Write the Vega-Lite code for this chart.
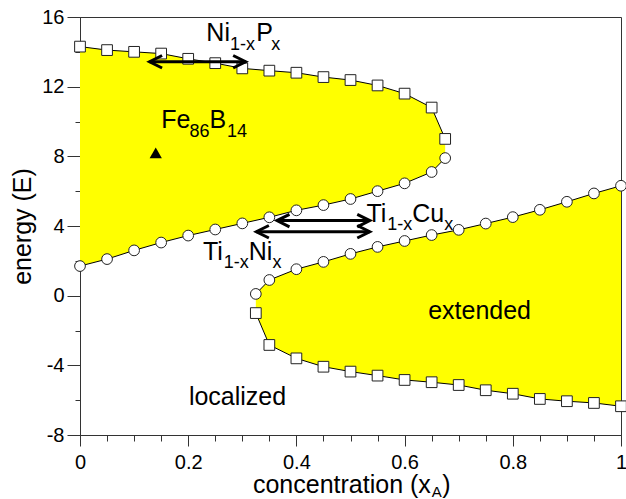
{
  "$schema": "https://vega.github.io/schema/vega-lite/v6.json",
  "width": 541,
  "height": 418,
  "autosize": {"type": "none"},
  "padding": {"left": 80, "top": 17, "right": 5, "bottom": 64},
  "config": {
    "font": "Liberation Sans",
    "view": {"stroke": "#333", "strokeWidth": 1},
    "axis": {
      "grid": false,
      "labelFlush": false,
      "labelOverlap": false,
      "domainColor": "#333",
      "tickColor": "#333",
      "labelColor": "#000",
      "labelFontSize": 20,
      "labelFont": "Liberation Sans",
      "titleFont": "Liberation Sans",
      "titleFontSize": 25,
      "titleFontWeight": "normal",
      "titleColor": "#000"
    }
  },
  "datasets": {
    "bands": [
      {"band": "upper", "x": 0, "top": 14.3, "bottom": 1.7},
      {"band": "upper", "x": 0.05, "top": 14.1, "bottom": 2.1},
      {"band": "upper", "x": 0.1, "top": 14.0, "bottom": 2.6},
      {"band": "upper", "x": 0.15, "top": 13.9, "bottom": 3.05},
      {"band": "upper", "x": 0.2, "top": 13.6, "bottom": 3.45},
      {"band": "upper", "x": 0.25, "top": 13.35, "bottom": 3.8},
      {"band": "upper", "x": 0.3, "top": 13.05, "bottom": 4.15},
      {"band": "upper", "x": 0.35, "top": 12.92, "bottom": 4.5},
      {"band": "upper", "x": 0.4, "top": 12.8, "bottom": 4.9},
      {"band": "upper", "x": 0.45, "top": 12.55, "bottom": 5.2},
      {"band": "upper", "x": 0.5, "top": 12.38, "bottom": 5.55},
      {"band": "upper", "x": 0.55, "top": 12.07, "bottom": 6.0},
      {"band": "upper", "x": 0.6, "top": 11.6, "bottom": 6.45},
      {"band": "upper", "x": 0.65, "top": 10.8, "bottom": 7.1},
      {"band": "upper", "x": 0.675, "top": 9.0, "bottom": 7.9},
      {"band": "lower", "x": 0.325, "top": 0.1, "bottom": -1.0},
      {"band": "lower", "x": 0.35, "top": 0.9, "bottom": -2.83},
      {"band": "lower", "x": 0.4, "top": 1.52, "bottom": -3.6},
      {"band": "lower", "x": 0.45, "top": 1.94, "bottom": -4.08},
      {"band": "lower", "x": 0.5, "top": 2.4, "bottom": -4.36},
      {"band": "lower", "x": 0.55, "top": 2.8, "bottom": -4.59},
      {"band": "lower", "x": 0.6, "top": 3.14, "bottom": -4.84},
      {"band": "lower", "x": 0.65, "top": 3.48, "bottom": -4.97},
      {"band": "lower", "x": 0.7, "top": 3.78, "bottom": -5.13},
      {"band": "lower", "x": 0.75, "top": 4.14, "bottom": -5.43},
      {"band": "lower", "x": 0.8, "top": 4.51, "bottom": -5.63},
      {"band": "lower", "x": 0.85, "top": 4.93, "bottom": -5.93},
      {"band": "lower", "x": 0.9, "top": 5.39, "bottom": -6.06},
      {"band": "lower", "x": 0.95, "top": 5.87, "bottom": -6.16},
      {"band": "lower", "x": 1.0, "top": 6.31, "bottom": -6.35}
    ],
    "curves": [
      {"curve": "upperTop", "marker": "square", "x": 0, "y": 14.3},
      {"curve": "upperTop", "marker": "square", "x": 0.05, "y": 14.1},
      {"curve": "upperTop", "marker": "square", "x": 0.1, "y": 14.0},
      {"curve": "upperTop", "marker": "square", "x": 0.15, "y": 13.9},
      {"curve": "upperTop", "marker": "square", "x": 0.2, "y": 13.6},
      {"curve": "upperTop", "marker": "square", "x": 0.25, "y": 13.35},
      {"curve": "upperTop", "marker": "square", "x": 0.3, "y": 13.05},
      {"curve": "upperTop", "marker": "square", "x": 0.35, "y": 12.92},
      {"curve": "upperTop", "marker": "square", "x": 0.4, "y": 12.8},
      {"curve": "upperTop", "marker": "square", "x": 0.45, "y": 12.55},
      {"curve": "upperTop", "marker": "square", "x": 0.5, "y": 12.38},
      {"curve": "upperTop", "marker": "square", "x": 0.55, "y": 12.07},
      {"curve": "upperTop", "marker": "square", "x": 0.6, "y": 11.6},
      {"curve": "upperTop", "marker": "square", "x": 0.65, "y": 10.8},
      {"curve": "upperTop", "marker": "square", "x": 0.675, "y": 9.0},
      {"curve": "upperBottom", "marker": "circle", "x": 0, "y": 1.7},
      {"curve": "upperBottom", "marker": "circle", "x": 0.05, "y": 2.1},
      {"curve": "upperBottom", "marker": "circle", "x": 0.1, "y": 2.6},
      {"curve": "upperBottom", "marker": "circle", "x": 0.15, "y": 3.05},
      {"curve": "upperBottom", "marker": "circle", "x": 0.2, "y": 3.45},
      {"curve": "upperBottom", "marker": "circle", "x": 0.25, "y": 3.8},
      {"curve": "upperBottom", "marker": "circle", "x": 0.3, "y": 4.15},
      {"curve": "upperBottom", "marker": "circle", "x": 0.35, "y": 4.5},
      {"curve": "upperBottom", "marker": "circle", "x": 0.4, "y": 4.9},
      {"curve": "upperBottom", "marker": "circle", "x": 0.45, "y": 5.2},
      {"curve": "upperBottom", "marker": "circle", "x": 0.5, "y": 5.55},
      {"curve": "upperBottom", "marker": "circle", "x": 0.55, "y": 6.0},
      {"curve": "upperBottom", "marker": "circle", "x": 0.6, "y": 6.45},
      {"curve": "upperBottom", "marker": "circle", "x": 0.65, "y": 7.1},
      {"curve": "upperBottom", "marker": "circle", "x": 0.675, "y": 7.9},
      {"curve": "lowerTop", "marker": "circle", "x": 0.325, "y": 0.1},
      {"curve": "lowerTop", "marker": "circle", "x": 0.35, "y": 0.9},
      {"curve": "lowerTop", "marker": "circle", "x": 0.4, "y": 1.52},
      {"curve": "lowerTop", "marker": "circle", "x": 0.45, "y": 1.94},
      {"curve": "lowerTop", "marker": "circle", "x": 0.5, "y": 2.4},
      {"curve": "lowerTop", "marker": "circle", "x": 0.55, "y": 2.8},
      {"curve": "lowerTop", "marker": "circle", "x": 0.6, "y": 3.14},
      {"curve": "lowerTop", "marker": "circle", "x": 0.65, "y": 3.48},
      {"curve": "lowerTop", "marker": "circle", "x": 0.7, "y": 3.78},
      {"curve": "lowerTop", "marker": "circle", "x": 0.75, "y": 4.14},
      {"curve": "lowerTop", "marker": "circle", "x": 0.8, "y": 4.51},
      {"curve": "lowerTop", "marker": "circle", "x": 0.85, "y": 4.93},
      {"curve": "lowerTop", "marker": "circle", "x": 0.9, "y": 5.39},
      {"curve": "lowerTop", "marker": "circle", "x": 0.95, "y": 5.87},
      {"curve": "lowerTop", "marker": "circle", "x": 1.0, "y": 6.31},
      {"curve": "lowerBottom", "marker": "square", "x": 0.325, "y": -1.0},
      {"curve": "lowerBottom", "marker": "square", "x": 0.35, "y": -2.83},
      {"curve": "lowerBottom", "marker": "square", "x": 0.4, "y": -3.6},
      {"curve": "lowerBottom", "marker": "square", "x": 0.45, "y": -4.08},
      {"curve": "lowerBottom", "marker": "square", "x": 0.5, "y": -4.36},
      {"curve": "lowerBottom", "marker": "square", "x": 0.55, "y": -4.59},
      {"curve": "lowerBottom", "marker": "square", "x": 0.6, "y": -4.84},
      {"curve": "lowerBottom", "marker": "square", "x": 0.65, "y": -4.97},
      {"curve": "lowerBottom", "marker": "square", "x": 0.7, "y": -5.13},
      {"curve": "lowerBottom", "marker": "square", "x": 0.75, "y": -5.43},
      {"curve": "lowerBottom", "marker": "square", "x": 0.8, "y": -5.63},
      {"curve": "lowerBottom", "marker": "square", "x": 0.85, "y": -5.93},
      {"curve": "lowerBottom", "marker": "square", "x": 0.9, "y": -6.06},
      {"curve": "lowerBottom", "marker": "square", "x": 0.95, "y": -6.16},
      {"curve": "lowerBottom", "marker": "square", "x": 1.0, "y": -6.35}
    ],
    "sample": [
      {"name": "Fe86B14", "x": 0.14, "y": 8.2}
    ],
    "arrows": [
      {"id": "NiP", "x1": 0.1286, "x2": 0.3062, "y": 13.43},
      {"id": "TiCu", "x1": 0.3641, "x2": 0.5356, "y": 4.31},
      {"id": "TiNi", "x1": 0.326, "x2": 0.5356, "y": 3.67}
    ],
    "heads": [
      {"id": "NiP", "dir": "L", "x": 0.1286, "y": 13.43},
      {"id": "NiP", "dir": "R", "x": 0.3062, "y": 13.43},
      {"id": "TiCu", "dir": "L", "x": 0.3641, "y": 4.31},
      {"id": "TiCu", "dir": "R", "x": 0.5356, "y": 4.31},
      {"id": "TiNi", "dir": "L", "x": 0.326, "y": 3.67},
      {"id": "TiNi", "dir": "R", "x": 0.5356, "y": 3.67}
    ],
    "mainText": [
      {"text": "Ni", "x": 0.2335, "y": 14.62},
      {"text": "P", "x": 0.326, "y": 14.62},
      {"text": "Fe", "x": 0.1502, "y": 9.64},
      {"text": "B", "x": 0.2396, "y": 9.64},
      {"text": "Ti", "x": 0.2272, "y": 2.07},
      {"text": "Ni", "x": 0.3119, "y": 2.07},
      {"text": "Ti", "x": 0.5295, "y": 4.25},
      {"text": "Cu", "x": 0.6142, "y": 4.25},
      {"text": "extended", "x": 0.6435, "y": -1.35},
      {"text": "localized", "x": 0.2013, "y": -6.27},
      {"text": ")", "x": 0.6698, "y": -11.33}
    ],
    "xTitle": [
      {"text": "concentration (x", "x": 0.6485, "y": -11.33}
    ],
    "subText": [
      {"text": "1-x", "x": 0.2771, "y": 14.1},
      {"text": "x", "x": 0.3537, "y": 14.1},
      {"text": "86", "x": 0.2026, "y": 9.13},
      {"text": "14", "x": 0.2716, "y": 9.13},
      {"text": "1-x", "x": 0.2657, "y": 1.59},
      {"text": "x", "x": 0.3556, "y": 1.59},
      {"text": "1-x", "x": 0.568, "y": 3.77},
      {"text": "x", "x": 0.6734, "y": 3.77}
    ],
    "titleSub": [
      {"text": "A", "x": 0.6503, "y": -11.55}
    ]
  },
  "resolve": {"axis": {"x": "independent", "y": "independent"}},
  "layer": [
    {
      "data": {"name": "bands"},
      "mark": {"type": "area", "color": "#ffff00", "opacity": 1},
      "encoding": {
        "x": {"field": "x", "type": "quantitative",
              "scale": {"domain": [0, 1], "nice": false, "zero": false},
              "axis": {"orient": "bottom", "values": [0, 0.2, 0.4, 0.6, 0.8, 1], "format": "~g", "tickSize": 11, "labelPadding": 6, "title": null}},
        "y": {"field": "top", "type": "quantitative",
              "scale": {"domain": [-8, 16], "nice": false, "zero": false},
              "axis": {"orient": "left", "values": [-8, -4, 0, 4, 8, 12, 16], "labelExpr": "'' + datum.value", "tickSize": 13, "labelPadding": 3, "title": "energy (E)", "titlePadding": 6}},
        "y2": {"field": "bottom"},
        "detail": {"field": "band"}
      }
    },
    {
      "data": {"name": "curves"},
      "mark": {"type": "line", "color": "#000", "strokeWidth": 1},
      "encoding": {
        "x": {"field": "x", "type": "quantitative",
              "axis": {"orient": "bottom", "values": [0, 0.05, 0.1, 0.15, 0.2, 0.25, 0.3, 0.35, 0.4, 0.45, 0.5, 0.55, 0.6, 0.65, 0.7, 0.75, 0.8, 0.85, 0.9, 0.95, 1], "tickSize": 6, "labels": false, "domain": false, "title": null}},
        "y": {"field": "y", "type": "quantitative",
              "axis": {"orient": "left", "values": [-8, -6, -4, -2, 0, 2, 4, 6, 8, 10, 12, 14, 16], "tickSize": 5, "labels": false, "domain": false, "title": null}},
        "detail": {"field": "curve"}
      }
    },
    {
      "data": {"name": "curves"},
      "mark": {"type": "point", "filled": true, "fill": "#fff", "stroke": "#222", "strokeWidth": 1, "opacity": 1, "size": 115},
      "encoding": {
        "x": {"field": "x", "type": "quantitative", "axis": null},
        "y": {"field": "y", "type": "quantitative", "axis": null},
        "shape": {"field": "marker", "type": "nominal", "scale": {"domain": ["square", "circle"], "range": ["square", "circle"]}, "legend": null}
      }
    },
    {
      "data": {"name": "sample"},
      "mark": {"type": "point", "shape": "triangle-up", "filled": true, "color": "#000", "opacity": 1, "size": 150},
      "encoding": {
        "x": {"field": "x", "type": "quantitative", "axis": null},
        "y": {"field": "y", "type": "quantitative", "axis": null}
      }
    },
    {
      "data": {"name": "arrows"},
      "mark": {"type": "rule", "color": "#000", "strokeWidth": 3},
      "encoding": {
        "x": {"field": "x1", "type": "quantitative", "axis": null},
        "x2": {"field": "x2"},
        "y": {"field": "y", "type": "quantitative", "axis": null}
      }
    },
    {
      "data": {"name": "heads"},
      "transform": [{"filter": "datum.dir == 'L'"}],
      "mark": {"type": "point", "shape": "M1,-0.5L0,0L1,0.5", "filled": false, "stroke": "#000", "strokeWidth": 3, "opacity": 1, "size": 625},
      "encoding": {
        "x": {"field": "x", "type": "quantitative", "axis": null},
        "y": {"field": "y", "type": "quantitative", "axis": null}
      }
    },
    {
      "data": {"name": "heads"},
      "transform": [{"filter": "datum.dir == 'R'"}],
      "mark": {"type": "point", "shape": "M-1,-0.5L0,0L-1,0.5", "filled": false, "stroke": "#000", "strokeWidth": 3, "opacity": 1, "size": 625},
      "encoding": {
        "x": {"field": "x", "type": "quantitative", "axis": null},
        "y": {"field": "y", "type": "quantitative", "axis": null}
      }
    },
    {
      "data": {"name": "mainText"},
      "mark": {"type": "text", "align": "left", "baseline": "alphabetic", "fontSize": 25, "color": "#000", "font": "Liberation Sans"},
      "encoding": {
        "x": {"field": "x", "type": "quantitative", "axis": null},
        "y": {"field": "y", "type": "quantitative", "axis": null},
        "text": {"field": "text"}
      }
    },
    {
      "data": {"name": "xTitle"},
      "mark": {"type": "text", "align": "right", "baseline": "alphabetic", "fontSize": 25, "color": "#000", "font": "Liberation Sans"},
      "encoding": {
        "x": {"field": "x", "type": "quantitative", "axis": null},
        "y": {"field": "y", "type": "quantitative", "axis": null},
        "text": {"field": "text"}
      }
    },
    {
      "data": {"name": "subText"},
      "mark": {"type": "text", "align": "left", "baseline": "alphabetic", "fontSize": 18, "color": "#000", "font": "Liberation Sans"},
      "encoding": {
        "x": {"field": "x", "type": "quantitative", "axis": null},
        "y": {"field": "y", "type": "quantitative", "axis": null},
        "text": {"field": "text"}
      }
    },
    {
      "data": {"name": "titleSub"},
      "mark": {"type": "text", "align": "left", "baseline": "alphabetic", "fontSize": 15, "color": "#000", "font": "Liberation Sans"},
      "encoding": {
        "x": {"field": "x", "type": "quantitative", "axis": null},
        "y": {"field": "y", "type": "quantitative", "axis": null},
        "text": {"field": "text"}
      }
    }
  ]
}
